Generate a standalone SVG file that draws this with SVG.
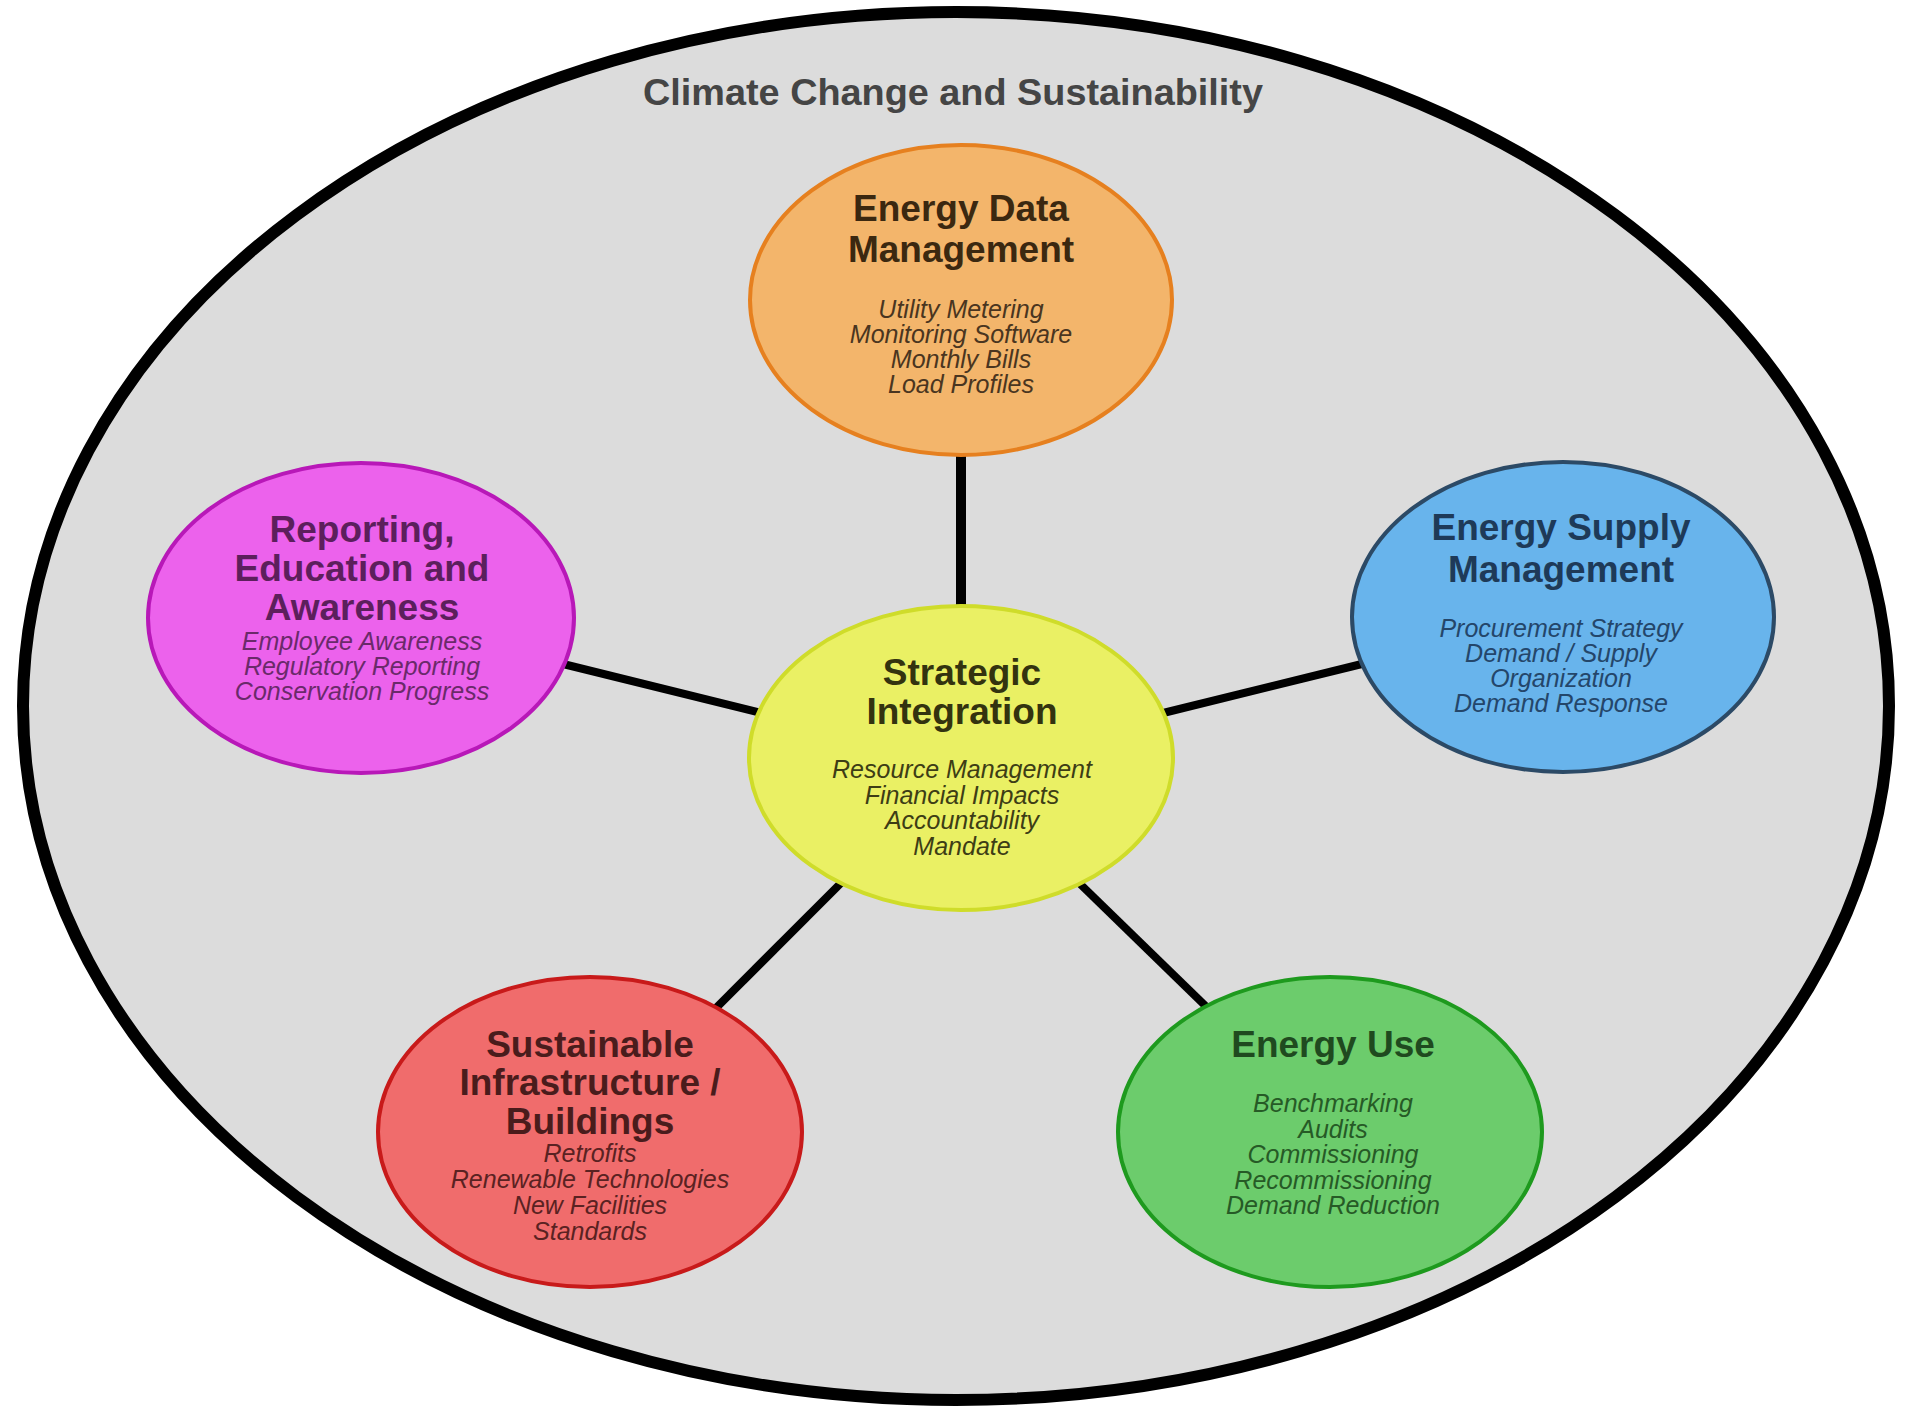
<svg xmlns="http://www.w3.org/2000/svg" width="1911" height="1411" viewBox="0 0 1911 1411">
<style>
text { font-family: "Liberation Sans", Arial, sans-serif; text-anchor: middle; }
.h { font-weight: bold; font-size: 37px; }
.i { font-style: italic; font-size: 25px; }
.node { stroke-width: 4; }
.conn { stroke: #000; stroke-width: 8; fill: none; }
</style>
<rect width="1911" height="1411" fill="#ffffff"/>
<g id="frame">
<ellipse cx="956" cy="706" rx="933" ry="694" fill="#dcdcdc" stroke="#000" stroke-width="12"/>
<text x="953" y="105" font-size="37" font-weight="bold" fill="#454545" textLength="620" lengthAdjust="spacingAndGlyphs">Climate Change and Sustainability</text>
</g>
<g id="connectors">
<line class="conn" x1="961" y1="440" x2="961" y2="620" style="stroke-width:10"/>
<line class="conn" x1="555" y1="662" x2="770" y2="715"/>
<line class="conn" x1="1155" y1="715" x2="1370" y2="662"/>
<line class="conn" x1="845" y1="879" x2="705" y2="1019"/>
<line class="conn" x1="1075" y1="879" x2="1219" y2="1019"/>
</g>
<g id="energy-data-management">
<ellipse class="node" cx="961" cy="300" rx="211" ry="155" fill="#f3b56b" stroke="#e6801f"/>
<text class="h" x="961" y="221" fill="#3b2810">Energy Data</text>
<text class="h" x="961" y="262" fill="#3b2810">Management</text>
<text class="i" x="961" y="318" fill="#4a3520">Utility Metering</text>
<text class="i" x="961" y="343" fill="#4a3520">Monitoring Software</text>
<text class="i" x="961" y="368" fill="#4a3520">Monthly Bills</text>
<text class="i" x="961" y="393" fill="#4a3520">Load Profiles</text>
</g>
<g id="reporting-education-awareness">
<ellipse class="node" cx="361" cy="618" rx="213" ry="155" fill="#ec62ec" stroke="#b818b8"/>
<text class="h" x="362" y="542" fill="#5c1f5c">Reporting,</text>
<text class="h" x="362" y="581" fill="#5c1f5c">Education and</text>
<text class="h" x="362" y="620" fill="#5c1f5c">Awareness</text>
<text class="i" x="362" y="650" fill="#6a2a6a">Employee Awareness</text>
<text class="i" x="362" y="675" fill="#6a2a6a">Regulatory Reporting</text>
<text class="i" x="362" y="700" fill="#6a2a6a">Conservation Progress</text>
</g>
<g id="strategic-integration">
<ellipse class="node" cx="961" cy="758" rx="212" ry="152" fill="#eaf064" stroke="#cfdc2a"/>
<text class="h" x="962" y="685" fill="#33330f">Strategic</text>
<text class="h" x="962" y="724" fill="#33330f">Integration</text>
<text class="i" x="962" y="778" fill="#3d3d15">Resource Management</text>
<text class="i" x="962" y="804" fill="#3d3d15">Financial Impacts</text>
<text class="i" x="962" y="829" fill="#3d3d15">Accountability</text>
<text class="i" x="962" y="855" fill="#3d3d15">Mandate</text>
</g>
<g id="energy-supply-management">
<ellipse class="node" cx="1563" cy="617" rx="211" ry="155" fill="#68b4ec" stroke="#2c4a66"/>
<text class="h" x="1561" y="540" fill="#1e3a58">Energy Supply</text>
<text class="h" x="1561" y="582" fill="#1e3a58">Management</text>
<text class="i" x="1561" y="637" fill="#24466a">Procurement Strategy</text>
<text class="i" x="1561" y="662" fill="#24466a">Demand / Supply</text>
<text class="i" x="1561" y="687" fill="#24466a">Organization</text>
<text class="i" x="1561" y="712" fill="#24466a">Demand Response</text>
</g>
<g id="sustainable-infrastructure-buildings">
<ellipse class="node" cx="590" cy="1132" rx="212" ry="155" fill="#f06c6c" stroke="#c81a1a"/>
<text class="h" x="590" y="1057" fill="#4a1c1c">Sustainable</text>
<text class="h" x="590" y="1095" fill="#4a1c1c">Infrastructure /</text>
<text class="h" x="590" y="1134" fill="#4a1c1c">Buildings</text>
<text class="i" x="590" y="1162" fill="#5a2222">Retrofits</text>
<text class="i" x="590" y="1188" fill="#5a2222">Renewable Technologies</text>
<text class="i" x="590" y="1214" fill="#5a2222">New Facilities</text>
<text class="i" x="590" y="1240" fill="#5a2222">Standards</text>
</g>
<g id="energy-use">
<ellipse class="node" cx="1330" cy="1132" rx="212" ry="155" fill="#6ccc6c" stroke="#1e9a1e"/>
<text class="h" x="1333" y="1057" fill="#1f4a1f">Energy Use</text>
<text class="i" x="1333" y="1112" fill="#265a26">Benchmarking</text>
<text class="i" x="1333" y="1138" fill="#265a26">Audits</text>
<text class="i" x="1333" y="1163" fill="#265a26">Commissioning</text>
<text class="i" x="1333" y="1189" fill="#265a26">Recommissioning</text>
<text class="i" x="1333" y="1214" fill="#265a26">Demand Reduction</text>
</g>
</svg>
